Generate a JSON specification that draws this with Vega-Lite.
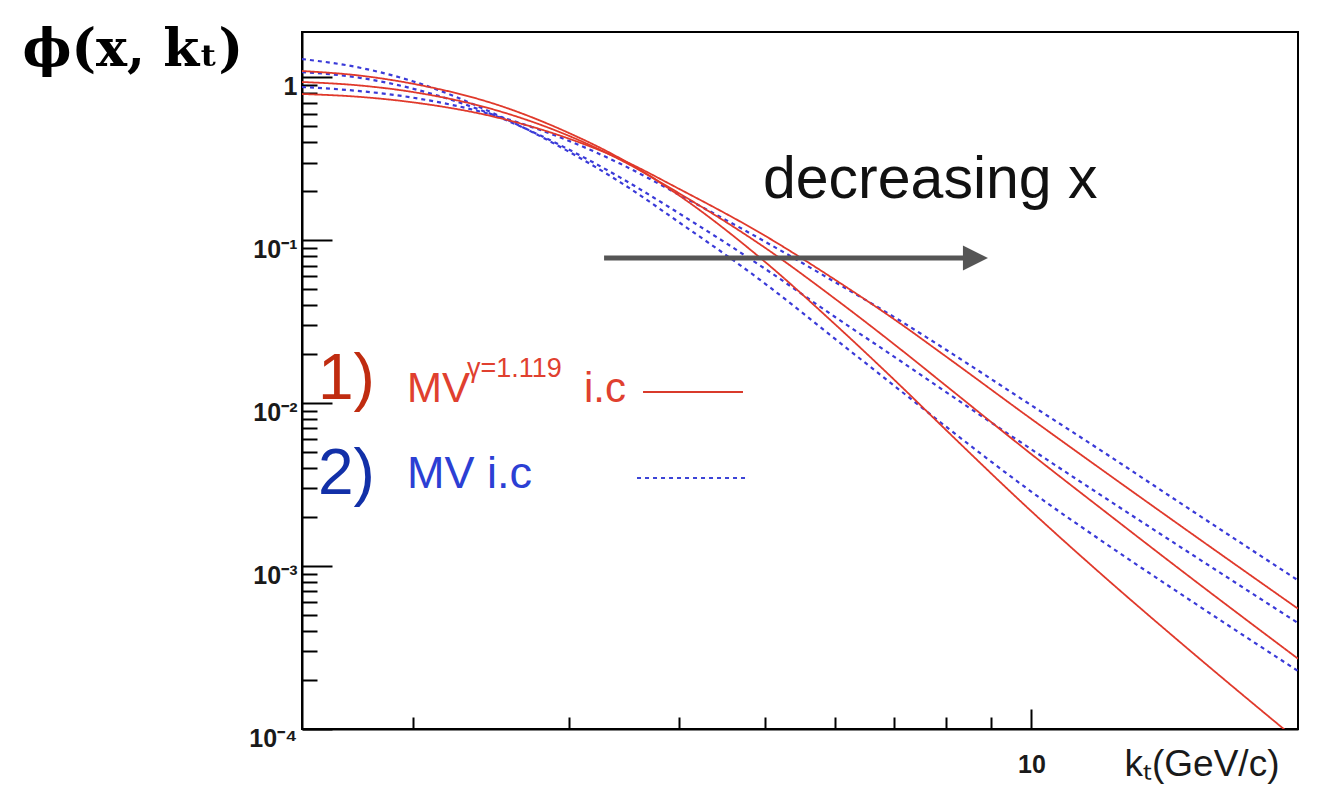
{
  "$schema": "https://vega.github.io/schema/vega-lite/v6.json",
  "width": 996,
  "height": 697,
  "autosize": {"type": "none"},
  "padding": {"left": 302, "top": 32, "right": 20, "bottom": 56},
  "background": "white",
  "config": {
    "view": {"stroke": "black", "strokeWidth": 2},
    "axis": {"grid": false, "domainColor": "black", "domainWidth": 2, "tickColor": "black", "tickWidth": 2, "labelColor": "#1a1a1a", "labelFont": "Liberation Sans", "labelFontWeight": "bold", "labelFontSize": 25, "labelOverlap": false, "labelFlush": false}
  },
  "datasets": {
    "curves": [
      {"curve":"B1","model":"mv","kt":1.5,"phi":1.297},{"curve":"B1","model":"mv","kt":1.744,"phi":1.147},{"curve":"B1","model":"mv","kt":2,"phi":0.9478},{"curve":"B1","model":"mv","kt":2.5,"phi":0.5828},{"curve":"B1","model":"mv","kt":3,"phi":0.3509},{"curve":"B1","model":"mv","kt":3.43,"phi":0.2277},{"curve":"B1","model":"mv","kt":4,"phi":0.1289},{"curve":"B1","model":"mv","kt":5,"phi":0.05429},{"curve":"B1","model":"mv","kt":6,"phi":0.02481},{"curve":"B1","model":"mv","kt":7.1,"phi":0.01203},{"curve":"B1","model":"mv","kt":8,"phi":0.007205},{"curve":"B1","model":"mv","kt":10,"phi":0.002859},{"curve":"B1","model":"mv","kt":12,"phi":0.001430},{"curve":"B1","model":"mv","kt":15,"phi":0.0006335},{"curve":"B1","model":"mv","kt":20,"phi":0.0002271},
      {"curve":"B2","model":"mv","kt":1.5,"phi":1.0794},{"curve":"B2","model":"mv","kt":1.744,"phi":0.9945},{"curve":"B2","model":"mv","kt":2,"phi":0.8537},{"curve":"B2","model":"mv","kt":2.5,"phi":0.5714},{"curve":"B2","model":"mv","kt":3,"phi":0.3615},{"curve":"B2","model":"mv","kt":3.43,"phi":0.2433},{"curve":"B2","model":"mv","kt":4,"phi":0.1463},{"curve":"B2","model":"mv","kt":5,"phi":0.06694},{"curve":"B2","model":"mv","kt":6,"phi":0.03382},{"curve":"B2","model":"mv","kt":7.1,"phi":0.01829},{"curve":"B2","model":"mv","kt":8,"phi":0.01175},{"curve":"B2","model":"mv","kt":10,"phi":0.005205},{"curve":"B2","model":"mv","kt":12,"phi":0.002709},{"curve":"B2","model":"mv","kt":15,"phi":0.001229},{"curve":"B2","model":"mv","kt":20,"phi":0.0004474},
      {"curve":"B3","model":"mv","kt":1.5,"phi":0.8732},{"curve":"B3","model":"mv","kt":1.744,"phi":0.8240},{"curve":"B3","model":"mv","kt":2,"phi":0.7515},{"curve":"B3","model":"mv","kt":2.5,"phi":0.5755},{"curve":"B3","model":"mv","kt":3,"phi":0.4089},{"curve":"B3","model":"mv","kt":3.43,"phi":0.2957},{"curve":"B3","model":"mv","kt":4,"phi":0.1903},{"curve":"B3","model":"mv","kt":5,"phi":0.09819},{"curve":"B3","model":"mv","kt":6,"phi":0.05537},{"curve":"B3","model":"mv","kt":7.1,"phi":0.03219},{"curve":"B3","model":"mv","kt":8,"phi":0.02136},{"curve":"B3","model":"mv","kt":10,"phi":0.009695},{"curve":"B3","model":"mv","kt":12,"phi":0.005096},{"curve":"B3","model":"mv","kt":15,"phi":0.002283},{"curve":"B3","model":"mv","kt":20,"phi":0.0008181},
      {"curve":"R1","model":"gamma","kt":1.5,"phi":1.0948},{"curve":"R1","model":"gamma","kt":1.744,"phi":1.0259},{"curve":"R1","model":"gamma","kt":2,"phi":0.9150},{"curve":"R1","model":"gamma","kt":2.5,"phi":0.6753},{"curve":"R1","model":"gamma","kt":3,"phi":0.4570},{"curve":"R1","model":"gamma","kt":3.43,"phi":0.3188},{"curve":"R1","model":"gamma","kt":4,"phi":0.1884},{"curve":"R1","model":"gamma","kt":5,"phi":0.07378},{"curve":"R1","model":"gamma","kt":6,"phi":0.03050},{"curve":"R1","model":"gamma","kt":7.1,"phi":0.01292},{"curve":"R1","model":"gamma","kt":8,"phi":0.006878},{"curve":"R1","model":"gamma","kt":10,"phi":0.002167},{"curve":"R1","model":"gamma","kt":12,"phi":0.0008893},{"curve":"R1","model":"gamma","kt":15,"phi":0.0003125},{"curve":"R1","model":"gamma","kt":20,"phi":0.00008466},
      {"curve":"R2","model":"gamma","kt":1.5,"phi":0.9372},{"curve":"R2","model":"gamma","kt":1.744,"phi":0.8920},{"curve":"R2","model":"gamma","kt":2,"phi":0.8138},{"curve":"R2","model":"gamma","kt":2.5,"phi":0.6228},{"curve":"R2","model":"gamma","kt":3,"phi":0.4386},{"curve":"R2","model":"gamma","kt":3.43,"phi":0.3126},{"curve":"R2","model":"gamma","kt":4,"phi":0.1943},{"curve":"R2","model":"gamma","kt":5,"phi":0.09009},{"curve":"R2","model":"gamma","kt":6,"phi":0.04375},{"curve":"R2","model":"gamma","kt":7.1,"phi":0.02161},{"curve":"R2","model":"gamma","kt":8,"phi":0.01285},{"curve":"R2","model":"gamma","kt":10,"phi":0.004858},{"curve":"R2","model":"gamma","kt":12,"phi":0.002245},{"curve":"R2","model":"gamma","kt":15,"phi":0.0008805},{"curve":"R2","model":"gamma","kt":20,"phi":0.0002701},
      {"curve":"R3","model":"gamma","kt":1.5,"phi":0.7910},{"curve":"R3","model":"gamma","kt":1.744,"phi":0.7592},{"curve":"R3","model":"gamma","kt":2,"phi":0.7034},{"curve":"R3","model":"gamma","kt":2.5,"phi":0.5650},{"curve":"R3","model":"gamma","kt":3,"phi":0.4216},{"curve":"R3","model":"gamma","kt":3.43,"phi":0.3160},{"curve":"R3","model":"gamma","kt":4,"phi":0.2068},{"curve":"R3","model":"gamma","kt":5,"phi":0.1067},{"curve":"R3","model":"gamma","kt":6,"phi":0.05729},{"curve":"R3","model":"gamma","kt":7.1,"phi":0.03098},{"curve":"R3","model":"gamma","kt":8,"phi":0.01941},{"curve":"R3","model":"gamma","kt":10,"phi":0.007990},{"curve":"R3","model":"gamma","kt":12,"phi":0.003917},{"curve":"R3","model":"gamma","kt":15,"phi":0.001651},{"curve":"R3","model":"gamma","kt":20,"phi":0.0005477}
    ]
  },
  "layer": [
    {
      "data": {"name": "curves"},
      "mark": {"type": "line", "clip": true, "interpolate": "monotone"},
      "encoding": {
        "x": {"field": "kt", "type": "quantitative", "scale": {"type": "log", "domain": [1.5, 20], "nice": false},
          "axis": {"orient": "bottom", "values": [10], "tickSize": -20, "labelPadding": 43, "labelFontSize": 25, "format": "d", "title": "kₜ(GeV/c)", "titleFont": "Liberation Sans", "titleFontSize": 37, "titleFontWeight": "normal", "titleColor": "#1a1a1a", "titleAlign": "left", "titleBaseline": "alphabetic", "titleX": 822, "titleY": 46}},
        "y": {"field": "phi", "type": "quantitative", "scale": {"type": "log", "domain": [0.0001, 1.9], "nice": false},
          "axis": {"orient": "left", "values": [1, 0.1, 0.01, 0.001, 0.0001], "tickSize": -30, "labelPadding": 35, "labelFontSize": 25, "labelBaseline": "top", "labelOffset": -3, "labelExpr": "datum.value >= 0.99 ? '1' : datum.value >= 0.099 ? '10⁻¹' : datum.value >= 0.0099 ? '10⁻²' : datum.value >= 0.00099 ? '10⁻³' : '10⁻⁴'", "title": "ϕ(x, kₜ)", "titleAngle": 0, "titleFont": "DejaVu Serif", "titleFontSize": 52, "titleFontWeight": "bold", "titleColor": "black", "titleAlign": "left", "titleBaseline": "alphabetic", "titleX": -280, "titleY": 33}},
        "color": {"field": "model", "type": "nominal", "scale": {"domain": ["gamma", "mv"], "range": ["#e0392b", "#3a3ad8"]}, "legend": null},
        "strokeDash": {"field": "model", "type": "nominal", "scale": {"domain": ["gamma", "mv"], "range": [[1, 0], [4, 4]]}, "legend": null},
        "strokeWidth": {"field": "model", "type": "nominal", "scale": {"domain": ["gamma", "mv"], "range": [1.8, 2.2]}, "legend": null},
        "detail": {"field": "curve"}
      }
    },
    {
      "data": {"values": [{"kt": 3.6414, "kt2": 4.7224, "phi": 0.011716}]},
      "mark": {"type": "rule", "color": "#d93a2b", "strokeWidth": 2},
      "encoding": {
        "x": {"field": "kt", "type": "quantitative", "scale": {"type": "log", "domain": [1.5, 20], "nice": false},
          "axis": {"orient": "bottom", "values": [2, 3, 4, 5, 6, 7, 8, 9], "tickSize": -12, "labels": false, "domain": false, "title": null}},
        "x2": {"field": "kt2"},
        "y": {"field": "phi", "type": "quantitative", "scale": {"type": "log", "domain": [0.0001, 1.9], "nice": false},
          "axis": {"orient": "left", "values": [0.0002, 0.0003, 0.0004, 0.0005, 0.0006, 0.0007, 0.0008, 0.0009, 0.002, 0.003, 0.004, 0.005, 0.006, 0.007, 0.008, 0.009, 0.02, 0.03, 0.04, 0.05, 0.06, 0.07, 0.08, 0.09, 0.2, 0.3, 0.4, 0.5, 0.6, 0.7, 0.8, 0.9], "tickSize": -15, "labels": false, "domain": false, "title": null}}
      }
    },
    {
      "data": {"values": [{"kt": 3.5849, "kt2": 4.7718, "phi": 0.003474}]},
      "mark": {"type": "rule", "color": "#3c44d6", "strokeWidth": 2.2, "strokeDash": [4, 4]},
      "encoding": {
        "x": {"field": "kt", "type": "quantitative", "scale": {"type": "log", "domain": [1.5, 20], "nice": false}, "axis": null},
        "x2": {"field": "kt2"},
        "y": {"field": "phi", "type": "quantitative", "scale": {"type": "log", "domain": [0.0001, 1.9], "nice": false}, "axis": null}
      }
    },
    {
      "data": {"values": [{"kt": 3.2906, "kt2": 8.5649, "phi": 0.077874}]},
      "mark": {"type": "rule", "color": "#555555", "strokeWidth": 5},
      "encoding": {
        "x": {"field": "kt", "type": "quantitative", "scale": {"type": "log", "domain": [1.5, 20], "nice": false}, "axis": null},
        "x2": {"field": "kt2"},
        "y": {"field": "phi", "type": "quantitative", "scale": {"type": "log", "domain": [0.0001, 1.9], "nice": false}, "axis": null}
      }
    },
    {
      "data": {"values": [{"kt": 8.6432, "phi": 0.077874}]},
      "mark": {"type": "point", "shape": "M-1,-1L1,0L-1,1Z", "size": 625, "filled": true, "color": "#555555", "opacity": 1},
      "encoding": {
        "x": {"field": "kt", "type": "quantitative", "scale": {"type": "log", "domain": [1.5, 20], "nice": false}, "axis": null},
        "y": {"field": "phi", "type": "quantitative", "scale": {"type": "log", "domain": [0.0001, 1.9], "nice": false}, "axis": null}
      }
    },
    {
      "data": {"values": [{"text": "decreasing x", "kt": 4.9747, "phi": 0.18183}]},
      "mark": {"type": "text", "align": "left", "baseline": "alphabetic", "font": "Liberation Sans", "fontSize": 59, "color": "#111111"},
      "encoding": {
        "x": {"field": "kt", "type": "quantitative", "scale": {"type": "log", "domain": [1.5, 20], "nice": false}, "axis": null},
        "y": {"field": "phi", "type": "quantitative", "scale": {"type": "log", "domain": [0.0001, 1.9], "nice": false}, "axis": null},
        "text": {"field": "text"}
      }
    },
    {
      "data": {"values": [{"text": "1)", "kt": 1.5636, "phi": 0.010612}]},
      "mark": {"type": "text", "align": "left", "baseline": "alphabetic", "font": "Liberation Sans", "fontSize": 64, "color": "#c02c10"},
      "encoding": {
        "x": {"field": "kt", "type": "quantitative", "scale": {"type": "log", "domain": [1.5, 20], "nice": false}, "axis": null},
        "y": {"field": "phi", "type": "quantitative", "scale": {"type": "log", "domain": [0.0001, 1.9], "nice": false}, "axis": null},
        "text": {"field": "text"}
      }
    },
    {
      "data": {"values": [{"text": "2)", "kt": 1.5636, "phi": 0.002772}]},
      "mark": {"type": "text", "align": "left", "baseline": "alphabetic", "font": "Liberation Sans", "fontSize": 64, "color": "#1230a8"},
      "encoding": {
        "x": {"field": "kt", "type": "quantitative", "scale": {"type": "log", "domain": [1.5, 20], "nice": false}, "axis": null},
        "y": {"field": "phi", "type": "quantitative", "scale": {"type": "log", "domain": [0.0001, 1.9], "nice": false}, "axis": null},
        "text": {"field": "text"}
      }
    },
    {
      "data": {"values": [{"text": "MV", "kt": 1.9711, "phi": 0.010171}, {"text": "i.c", "kt": 3.1233, "phi": 0.010171}]},
      "mark": {"type": "text", "align": "left", "baseline": "alphabetic", "font": "Liberation Sans", "fontSize": 42, "color": "#e0402f"},
      "encoding": {
        "x": {"field": "kt", "type": "quantitative", "scale": {"type": "log", "domain": [1.5, 20], "nice": false}, "axis": null},
        "y": {"field": "phi", "type": "quantitative", "scale": {"type": "log", "domain": [0.0001, 1.9], "nice": false}, "axis": null},
        "text": {"field": "text"}
      }
    },
    {
      "data": {"values": [{"text": "γ=1.119", "kt": 2.3041, "phi": 0.014488}]},
      "mark": {"type": "text", "align": "left", "baseline": "alphabetic", "font": "Liberation Sans", "fontSize": 27, "color": "#e0402f"},
      "encoding": {
        "x": {"field": "kt", "type": "quantitative", "scale": {"type": "log", "domain": [1.5, 20], "nice": false}, "axis": null},
        "y": {"field": "phi", "type": "quantitative", "scale": {"type": "log", "domain": [0.0001, 1.9], "nice": false}, "axis": null},
        "text": {"field": "text"}
      }
    },
    {
      "data": {"values": [{"text": "MV i.c", "kt": 1.9711, "phi": 0.003017}]},
      "mark": {"type": "text", "align": "left", "baseline": "alphabetic", "font": "Liberation Sans", "fontSize": 45, "color": "#2c3fd4"},
      "encoding": {
        "x": {"field": "kt", "type": "quantitative", "scale": {"type": "log", "domain": [1.5, 20], "nice": false}, "axis": null},
        "y": {"field": "phi", "type": "quantitative", "scale": {"type": "log", "domain": [0.0001, 1.9], "nice": false}, "axis": null},
        "text": {"field": "text"}
      }
    }
  ],
  "resolve": {"axis": {"x": "independent", "y": "independent"}}
}
